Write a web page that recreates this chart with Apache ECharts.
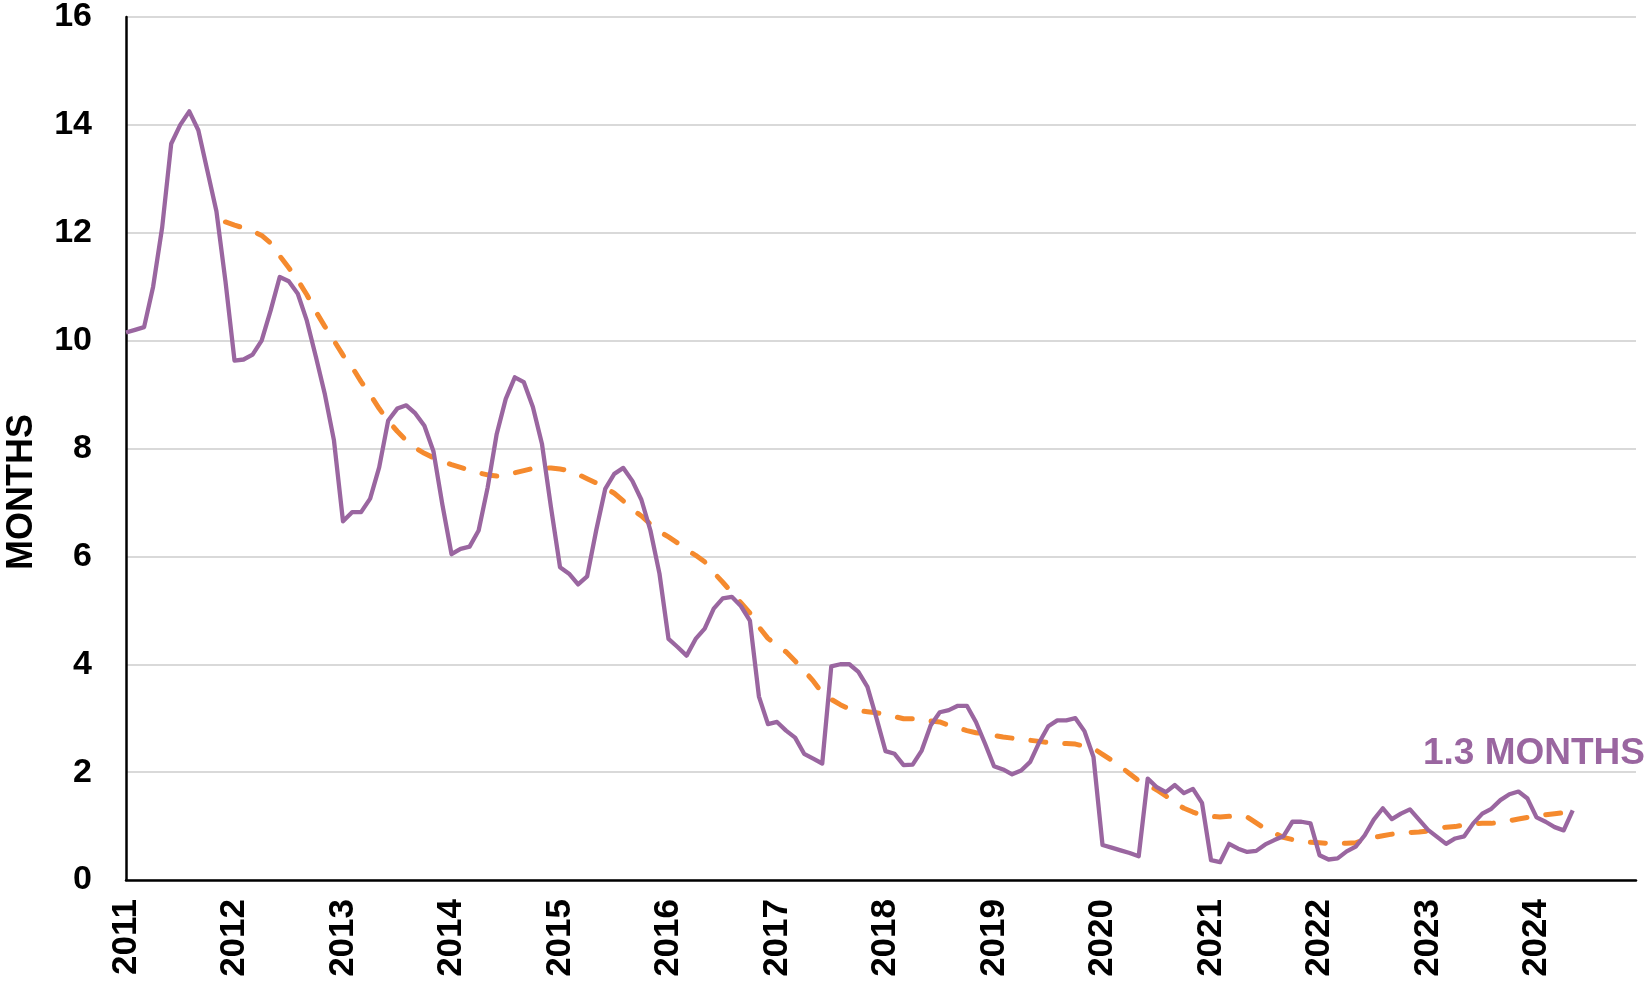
<!DOCTYPE html>
<html>
<head>
<meta charset="utf-8">
<script src="https://cdn.jsdelivr.net/npm/echarts@6/dist/echarts.min.js"></script>
<style>
html,body{margin:0;padding:0;background:#fff;}
#chart{width:1652px;height:995px;}
</style>
</head>
<body>
<div id="chart"></div>
<script>
// ---- data ----
const years = ['2011','2012','2013','2014','2015','2016','2017','2018','2019','2020','2021','2022','2023','2024'];
const yTicks = [0, 2, 4, 6, 8, 10, 12, 14, 16];
const monthsSupply = [
  10.15,10.2,10.25,11.0,12.1,13.65,14.0,14.25,13.9,13.15,12.4,11.1,
  9.63,9.65,9.74,10.0,10.56,11.18,11.1,10.87,10.37,9.7,9.0,8.15,
  6.65,6.82,6.82,7.07,7.65,8.52,8.74,8.8,8.65,8.42,7.95,6.95,
  6.04,6.14,6.18,6.48,7.28,8.27,8.92,9.32,9.23,8.77,8.09,6.91,
  5.8,5.68,5.48,5.63,6.48,7.25,7.53,7.64,7.4,7.05,6.48,5.68,
  4.47,4.32,4.16,4.47,4.66,5.03,5.22,5.25,5.08,4.81,3.4,2.89,
  2.93,2.77,2.64,2.34,2.25,2.16,3.96,4.0,4.0,3.86,3.58,3.0,
  2.39,2.34,2.13,2.14,2.4,2.87,3.11,3.15,3.23,3.23,2.93,2.53,
  2.11,2.05,1.96,2.03,2.19,2.55,2.85,2.96,2.96,3.0,2.76,2.28,
  0.65,0.6,0.55,0.5,0.44,1.88,1.72,1.63,1.76,1.61,1.69,1.43,
  0.37,0.33,0.67,0.58,0.52,0.54,0.66,0.74,0.81,1.08,1.08,1.05,
  0.46,0.38,0.4,0.53,0.62,0.83,1.12,1.33,1.13,1.23,1.31,1.12,
  0.93,0.8,0.67,0.77,0.81,1.05,1.23,1.32,1.48,1.59,1.64,1.51,
  1.16,1.08,0.98,0.92,1.29
];
const trendStartIndex = 11;
const trend = [
  12.2,12.14,12.09,12.03,11.95,11.81,11.57,11.35,11.12,10.85,10.54,10.26,10.0,
  9.73,9.51,9.24,9.0,8.74,8.51,8.32,8.15,8.01,7.91,7.83,7.76,
  7.7,7.65,7.6,7.55,7.51,7.49,7.51,7.55,7.59,7.63,7.64,7.64,
  7.62,7.59,7.52,7.44,7.36,7.27,7.17,7.03,6.87,6.75,6.6,6.46,
  6.36,6.25,6.12,6.02,5.9,5.7,5.52,5.33,5.14,4.95,4.69,4.48,
  4.35,4.23,4.06,3.88,3.69,3.47,3.35,3.25,3.17,3.14,3.12,3.1,
  3.07,3.03,2.99,2.99,2.98,2.95,2.93,2.87,2.82,2.77,2.73,2.71,
  2.68,2.65,2.63,2.61,2.59,2.57,2.55,2.54,2.53,2.52,2.48,2.44,
  2.33,2.22,2.1,1.97,1.84,1.76,1.67,1.56,1.43,1.33,1.26,1.2,
  1.18,1.17,1.18,1.19,1.17,1.06,0.95,0.87,0.79,0.75,0.71,0.7,
  0.69,0.68,0.68,0.68,0.69,0.75,0.79,0.82,0.85,0.87,0.88,0.89,
  0.91,0.95,0.98,0.99,1.02,1.04,1.05,1.05,1.07,1.1,1.13,1.16,
  1.18,1.21,1.23,1.25,1.26
];
const yAxisTitle = 'MONTHS';
const unitText = 'MONTHS';

// ---- build ----
const categories = [];
years.forEach(y => { for (let m = 1; m <= 12; m++) categories.push(y + '-' + String(m).padStart(2, '0')); });
const trendData = new Array(trendStartIndex).fill(null).concat(trend);
const lastVal = monthsSupply[monthsSupply.length - 1];

const purple = '#9a66a0';
const orange = '#f58a2e';
const font = '"Liberation Sans", Arial, sans-serif';

const chart = echarts.init(document.getElementById('chart'), null, {renderer: 'canvas'});
chart.setOption({
  animation: false,
  backgroundColor: '#ffffff',
  grid: {left: 126, right: 16, top: 17, bottom: 115, containLabel: false},
  xAxis: {
    type: 'category',
    data: categories,
    boundaryGap: false,
    axisLine: {show: true, lineStyle: {color: '#000', width: 2.5}},
    axisTick: {show: false},
    splitLine: {show: false},
    axisLabel: {
      interval: (i) => i % 12 === 0,
      formatter: (v) => v.slice(0, 4),
      rotate: 90,
      margin: 19,
      color: '#000',
      fontFamily: font,
      fontWeight: 'bold',
      fontSize: 35
    }
  },
  yAxis: {
    type: 'value',
    min: yTicks[0],
    max: yTicks[yTicks.length - 1],
    interval: yTicks[1] - yTicks[0],
    axisLine: {show: true, lineStyle: {color: '#000', width: 2.5}},
    axisTick: {show: false},
    splitLine: {show: true, lineStyle: {color: '#d9d9d9', width: 2}},
    axisLabel: {
      margin: 34,
      color: '#000',
      fontFamily: font,
      fontWeight: 'bold',
      fontSize: 34
    }
  },
  series: [
    {
      name: 'Months supply',
      type: 'line',
      data: monthsSupply,
      showSymbol: false,
      symbol: 'none',
      lineStyle: {color: purple, width: 4.3, join: 'round'},
      z: 3
    },
    {
      name: 'Trend',
      type: 'line',
      data: trendData,
      showSymbol: false,
      symbol: 'none',
      connectNulls: false,
      lineStyle: {color: orange, width: 5, type: [15, 19], cap: 'round'},
      z: 2
    }
  ],
  graphic: [
    {
      type: 'text',
      x: 22, y: 492,
      rotation: Math.PI / 2,
      style: {
        text: yAxisTitle,
        font: 'bold 36px ' + font,
        fill: '#000',
        align: 'center',
        verticalAlign: 'middle'
      }
    },
    {
      type: 'text',
      right: 7, top: 735,
      style: {
        text: lastVal.toFixed(1) + ' ' + unitText,
        font: 'bold 37px ' + font,
        fill: purple
      }
    }
  ]
});
</script>
</body>
</html>
